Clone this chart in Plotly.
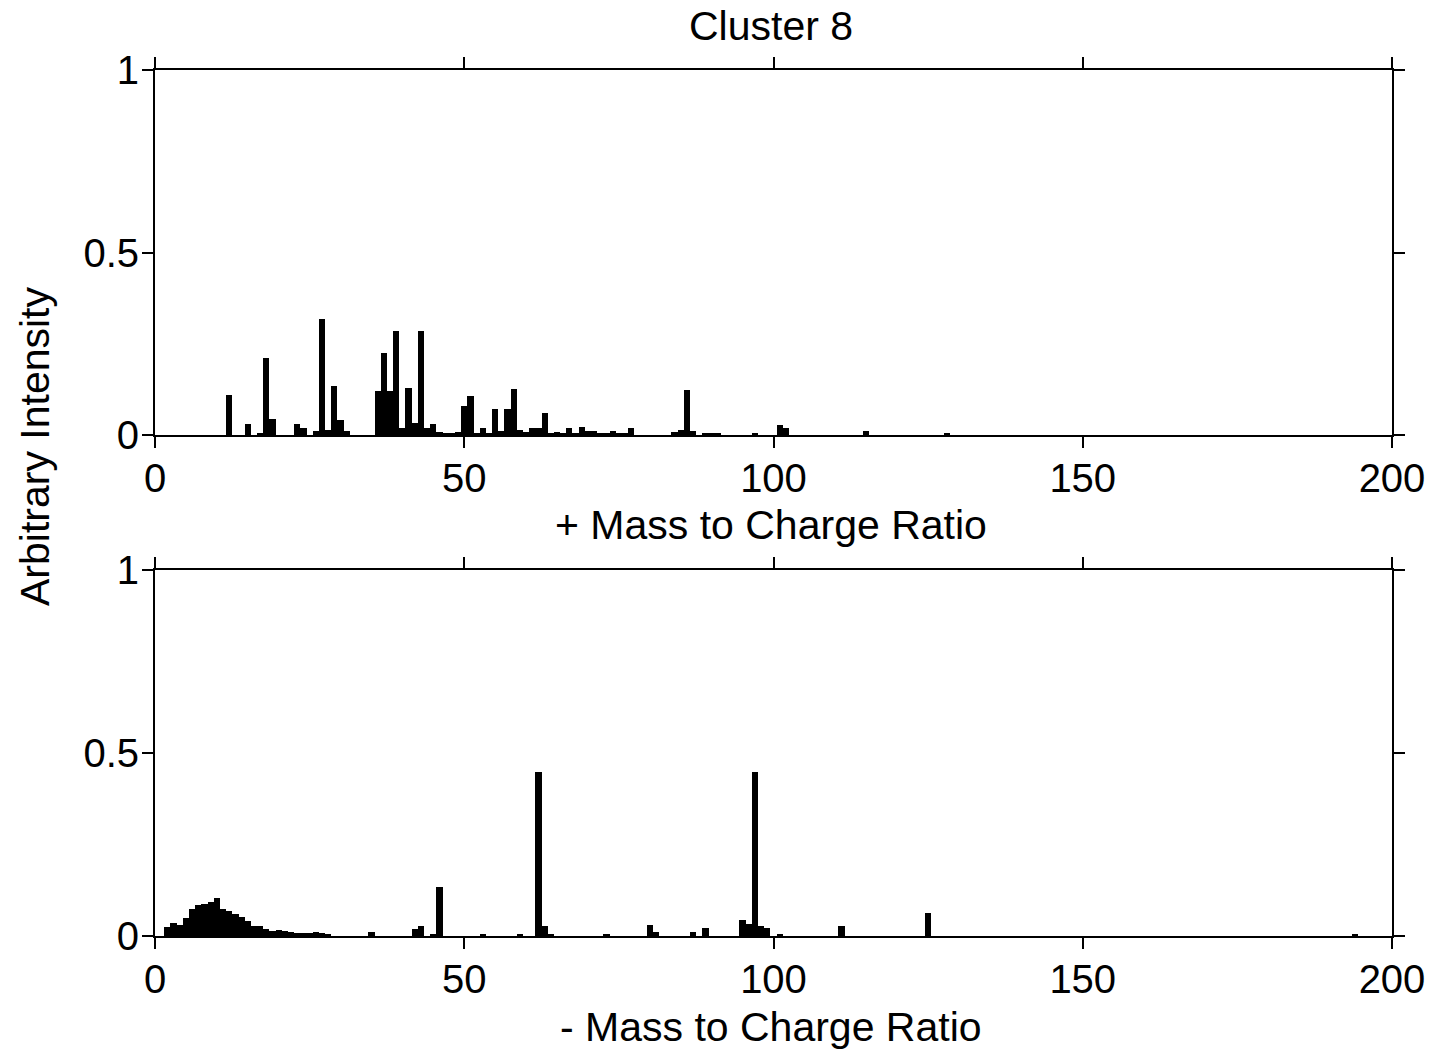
import plotly.graph_objects as go

# Positive ion spectrum (m/z, intensity)
pos_mz = [12, 15, 17, 18, 19, 23, 24, 26, 27, 28, 29, 30, 31, 36, 37, 38, 39, 40, 41, 42,
          43, 44, 45, 46, 47, 48, 49, 50, 51, 52, 53, 54, 55, 56, 57, 58, 59, 60, 61, 62,
          63, 64, 65, 66, 67, 68, 69, 70, 71, 72, 73, 74, 75, 76, 77, 84, 85, 86, 87, 89,
          90, 91, 97, 101, 102, 115, 128]
pos_int = [0.11, 0.03, 0.006, 0.21, 0.045, 0.03, 0.02, 0.01, 0.317, 0.015, 0.135, 0.042, 0.01,
           0.12, 0.225, 0.12, 0.286, 0.02, 0.13, 0.034, 0.286, 0.02, 0.03, 0.007, 0.003, 0.003,
           0.007, 0.08, 0.107, 0.003, 0.02, 0.003, 0.072, 0.012, 0.072, 0.127, 0.015, 0.008,
           0.02, 0.02, 0.061, 0.004, 0.007, 0.003, 0.02, 0.004, 0.022, 0.012, 0.012, 0.005,
           0.005, 0.01, 0.003, 0.003, 0.02, 0.007, 0.013, 0.122, 0.011, 0.006, 0.006, 0.006,
           0.006, 0.027, 0.02, 0.01, 0.005]

# Negative ion spectrum (m/z, intensity)
neg_mz = [2, 3, 4, 5, 6, 7, 8, 9, 10, 11, 12, 13, 14, 15, 16, 17, 18, 19, 20, 21, 22, 23, 24,
          25, 26, 27, 28, 35, 42, 43, 45, 46, 53, 59, 62, 63, 64, 73, 80, 81, 87, 89, 95, 96,
          97, 98, 99, 101, 111, 125, 194]
neg_int = [0.025, 0.036, 0.03, 0.05, 0.075, 0.085, 0.088, 0.094, 0.103, 0.075, 0.068, 0.06,
           0.052, 0.04, 0.026, 0.026, 0.02, 0.015, 0.017, 0.013, 0.01, 0.007, 0.007, 0.007,
           0.01, 0.008, 0.004, 0.01, 0.02, 0.026, 0.005, 0.135, 0.005, 0.005, 0.448, 0.026,
           0.005, 0.003, 0.03, 0.01, 0.01, 0.022, 0.045, 0.034, 0.448, 0.026, 0.022, 0.005,
           0.026, 0.062, 0.004]

x_ticks = [0, 50, 100, 150, 200]
y_ticks = [0, 0.5, 1]
y_ticktext = ["0", "0.5", "1"]

FONT = "Liberation Sans, Arial, sans-serif"

fig = go.Figure()
fig.add_trace(go.Bar(x=pos_mz, y=pos_int, width=1, marker=dict(color="black", line=dict(width=0)),
                     xaxis="x", yaxis="y", showlegend=False))
fig.add_trace(go.Bar(x=neg_mz, y=neg_int, width=1, marker=dict(color="black", line=dict(width=0)),
                     xaxis="x2", yaxis="y2", showlegend=False))

ax_common = dict(showline=True, linewidth=2, linecolor="black", mirror="ticks",
                 ticks="outside", ticklen=11, tickwidth=2, tickcolor="black",
                 showgrid=False, zeroline=False,
                 tickfont=dict(family=FONT, size=40, color="black"))

W, H = 1437, 1055
ML, MR, MT, MB = 155, 45, 70, 119
PW = W - ML - MR  # 1237
PH = H - MT - MB  # 866

top_dom = [(PH - 365) / PH, 1.0]
bot_dom = [0.0, 366 / PH]

fig.update_layout(
    width=W, height=H,
    margin=dict(l=ML, r=MR, t=MT, b=MB),
    paper_bgcolor="white", plot_bgcolor="white",
    bargap=0,
    font=dict(family=FONT, color="black"),
    title=dict(text="Cluster 8", x=(ML + 0.498 * PW) / W, xanchor="center",
               y=1 - 26 / H, yanchor="middle", font=dict(family=FONT, size=41, color="black")),
    xaxis=dict(domain=[0, 1], range=[0, 200], tickvals=x_ticks, anchor="y",
               ticklabelstandoff=-4, **ax_common),
    yaxis=dict(domain=top_dom, range=[0, 1], tickvals=y_ticks, ticktext=y_ticktext, anchor="x",
               ticklabelstandoff=-5, **ax_common),
    xaxis2=dict(domain=[0, 1], range=[0, 200], tickvals=x_ticks, anchor="y2",
                ticklabelstandoff=-4, **ax_common),
    yaxis2=dict(domain=bot_dom, range=[0, 1], tickvals=y_ticks, ticktext=y_ticktext, anchor="x2",
                ticklabelstandoff=-5, **ax_common),
    annotations=[
        dict(text="+ Mass to Charge Ratio", xref="paper", yref="paper", x=0.498, y=(PH - 455) / PH,
             xanchor="center", yanchor="middle", showarrow=False,
             font=dict(family=FONT, size=41, color="black")),
        dict(text="- Mass to Charge Ratio", xref="paper", yref="paper", x=0.498, y=(PH - 957) / PH,
             xanchor="center", yanchor="middle", showarrow=False,
             font=dict(family=FONT, size=41, color="black")),
        dict(text="Arbitrary Intensity", xref="paper", yref="paper", x=-120 / PW,
             y=(PH - 377) / PH, xanchor="center", yanchor="middle", textangle=-90, showarrow=False,
             font=dict(family=FONT, size=41, color="black")),
    ],
)

fig.write_html(
    "out.html",
    config={"displayModeBar": False},
    post_script="document.documentElement.style.margin='0';document.body.style.margin='0';"
                "document.body.style.padding='0';document.body.style.overflow='hidden';",
)
